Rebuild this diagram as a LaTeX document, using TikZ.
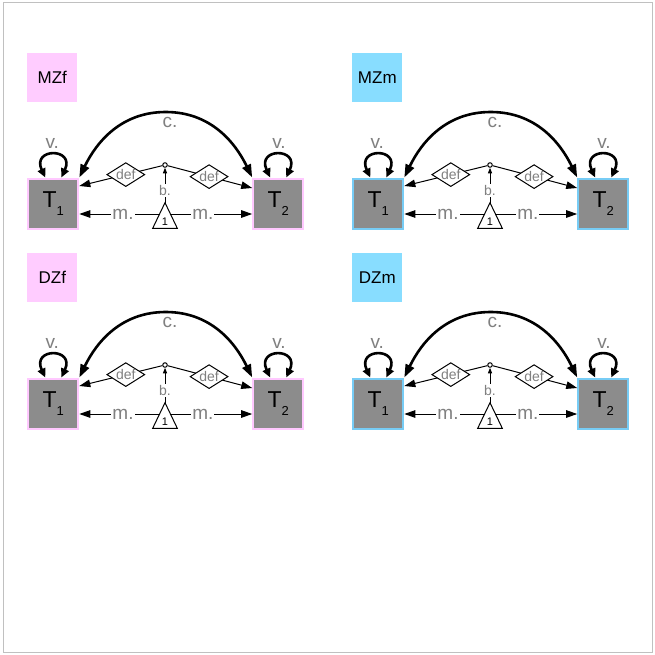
\documentclass[tikz,border=0pt]{standalone}
\usepackage{fontspec}
\setmainfont{Liberation Sans}
\usetikzlibrary{arrows.meta,shapes.geometric,calc}
\definecolor{pinkfill}{RGB}{255,204,255}
\definecolor{pinkedge}{RGB}{255,200,255}
\definecolor{bluefill}{RGB}{136,221,255}
\definecolor{blueedge}{RGB}{119,204,245}
\definecolor{boxgray}{RGB}{140,140,140}
\definecolor{labgray}{RGB}{128,128,128}
\definecolor{framegray}{RGB}{192,192,192}
\tikzset{
 grouplabel/.style={rectangle, minimum width=50pt, minimum height=49pt, inner sep=0pt, font=\fontsize{17}{17}\selectfont},
 twinbox/.style={rectangle, fill=boxgray, line width=2pt, minimum size=50pt, inner sep=0pt, font=\fontsize{23}{23}\selectfont},
 thinarrow/.style={line width=1pt, -{Triangle[length=11pt,width=7.5pt]}},
 barrow/.style={line width=1pt, -{Triangle[length=5.5pt,width=4pt]}},
 loopstyle/.style={line width=2.6pt, {Triangle[length=9pt,width=8pt]}-{Triangle[length=9pt,width=8pt]}},
 thickarc/.style={line width=2.6pt, {Triangle[length=13pt,width=9pt]}-{Triangle[length=13pt,width=9pt]}},
 biglab/.style={text=labgray, font=\fontsize{19}{19}\selectfont, inner sep=0pt},
 mlab/.style={text=labgray, fill=white, font=\fontsize{19}{19}\selectfont, inner sep=1pt},
 blab/.style={text=labgray, fill=white, font=\fontsize{14}{14}\selectfont, inner sep=1pt},
 defbox/.style={diamond, draw=black, line width=1pt, fill=white, text=labgray, font=\fontsize{14}{14}\selectfont, inner sep=0pt, shape aspect=1.6, minimum width=38pt, minimum height=24pt},
 onelab/.style={font=\fontsize{11}{11}\selectfont, inner sep=0pt},
 smallcirc/.style={circle, draw=black, fill=white, line width=1pt, minimum size=4.5pt, inner sep=0pt},
}
\newcommand{\twinpanel}[6]{%
\begin{scope}[shift={(#2,#3)}]
 \node[grouplabel, fill=#5] (#1lab) at (52.3,77.8) {#4};
 \node[twinbox, draw=#6] (#1T1) at (53.3,203.5) {T\raisebox{-8.5pt}{\fontsize{13}{13}\selectfont 1}};
 \node[twinbox, draw=#6] (#1T2) at (278.2,203.5) {T\raisebox{-8.5pt}{\fontsize{13}{13}\selectfont 2}};
 \node[smallcirc] (#1ci) at (165,165) {};
 \coordinate (#1tc) at (165,214);
 \coordinate (#1tap) at (165,202.7);
 \coordinate (#1pk) at (165.75,112);
 % m. paths
 \draw[thinarrow] (#1tc) -- node[mlab,pos=0.49]{m.} ([yshift=-10.5pt]#1T1.east);
 \draw[thinarrow] (#1tc) -- node[mlab,pos=0.435]{m.} ([yshift=-10.5pt]#1T2.west);
 % triangle
 \filldraw[fill=white, draw=black, line width=1pt] (152.7,228.3) -- (#1tap) -- (177.3,228.3) -- cycle;
 \node[onelab] (#1one) at (165,222) {1};
 % b. path
 \draw[barrow] (#1tap) -- node[blab,pos=0.35]{b.} (#1ci);
 % def paths
 \draw[thinarrow] (#1ci) -- node[defbox,pos=0.44]{def} ([yshift=17.5pt]#1T1.east);
 \draw[thinarrow] (#1ci) -- node[defbox,pos=0.49]{def} ([yshift=15.5pt]#1T2.west);
 % c. arc
 \draw[thickarc] (#1T1.north east) .. controls +(17.5,-36) and +(-44.25,0) .. (#1pk) .. controls +(44.25,0) and +(-17.5,-36) .. (#1T2.north west);
 \node[biglab] (#1c) at (170,122) {c.};
 % v. loops
 \draw[loopstyle] ([xshift=-8pt]#1T1.north) .. controls +(-14,-30) and +(14,-30) .. ([xshift=8pt]#1T1.north);
 \draw[loopstyle] ([xshift=-8pt]#1T2.north) .. controls +(-14,-30) and +(14,-30) .. ([xshift=8pt]#1T2.north);
 \node[biglab] (#1va) at (52.3,143) {v.};
 \node[biglab] (#1vb) at (279,143) {v.};
\end{scope}}
\begin{document}
\begin{tikzpicture}[x=1pt,y=-1pt]
\useasboundingbox (0,0) rectangle (655,655);
\fill[white] (0,0) rectangle (655,655);
\draw[framegray, line width=1pt] (3,3) rectangle (652.5,652.5);
\twinpanel{mzf}{0}{0}{MZf}{pinkfill}{pinkedge}
\twinpanel{mzm}{325}{0}{MZm}{bluefill}{blueedge}
\twinpanel{dzf}{0}{200}{DZf}{pinkfill}{pinkedge}
\twinpanel{dzm}{325}{200}{DZm}{bluefill}{blueedge}
\end{tikzpicture}
\end{document}
